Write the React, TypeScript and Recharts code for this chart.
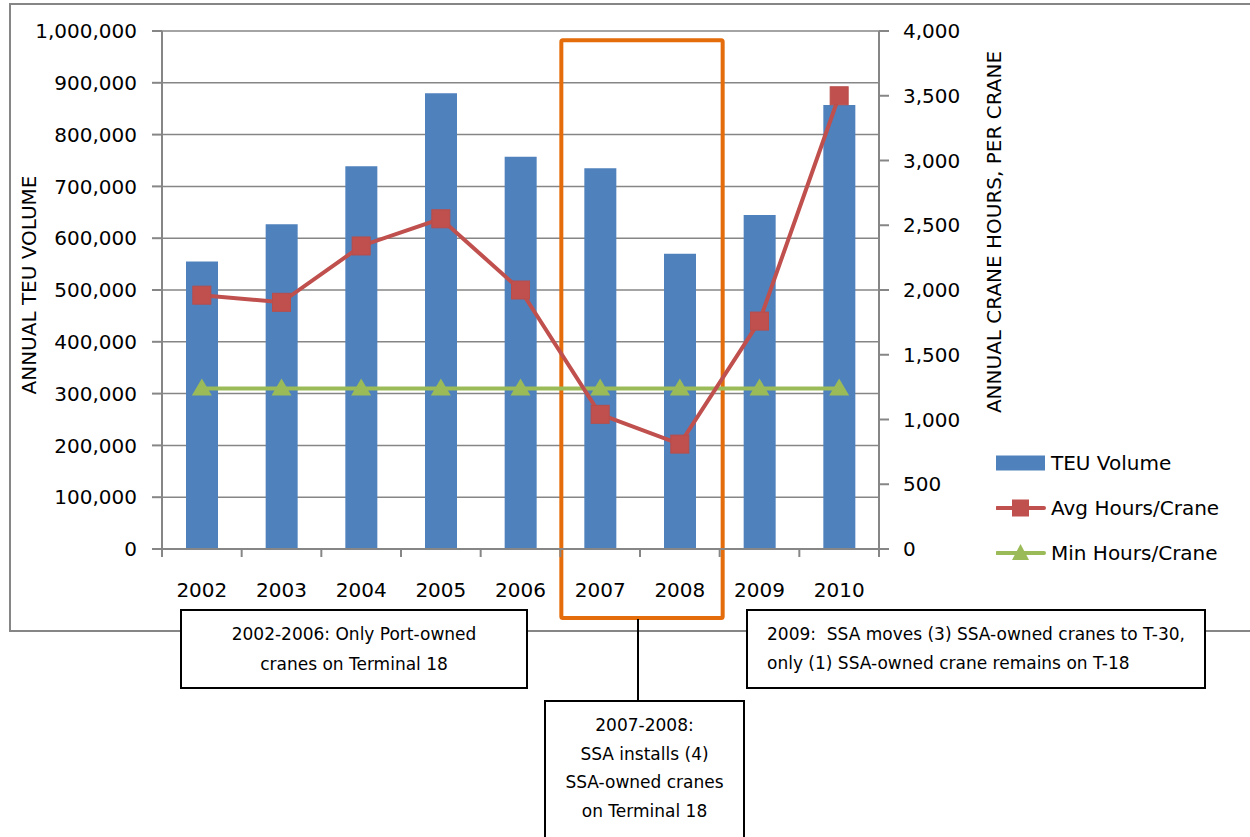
import React from 'react';
import {
  ComposedChart,
  Bar,
  Line,
  XAxis,
  YAxis,
  CartesianGrid,
  ReferenceArea,
  Legend,
} from 'recharts';

const years = ['2002', '2003', '2004', '2005', '2006', '2007', '2008', '2009', '2010'];
const teuVolume = [555000, 627000, 739000, 880000, 757000, 735000, 570000, 645000, 857000];
const avgHoursPerCrane = [1960, 1905, 2340, 2550, 2000, 1040, 810, 1760, 3500];
const minHoursPerCrane = [1240, 1240, 1240, 1240, 1240, 1240, 1240, 1240, 1240];
const leftTicks = [0, 100000, 200000, 300000, 400000, 500000, 600000, 700000, 800000, 900000, 1000000];
const rightTicks = [0, 500, 1000, 1500, 2000, 2500, 3000, 3500, 4000];
const highlightStart = '2007';
const highlightEnd = '2008';
const highlightLow = -133000;
const highlightHigh = 982000;

const seriesNames = { teu: 'TEU Volume', avg: 'Avg Hours/Crane', min: 'Min Hours/Crane' };
const legendOrder = ['teu', 'avg', 'min'];
const leftTitle = 'ANNUAL TEU VOLUME';
const rightTitle = 'ANNUAL CRANE HOURS, PER CRANE';

const noteEarly = ['2002-2006: Only Port-owned', 'cranes on Terminal 18'];
const noteMid = ['2007-2008:', 'SSA installs (4)', 'SSA-owned cranes', 'on Terminal 18'];
const noteLate = ['2009:  SSA moves (3) SSA-owned cranes to T-30,', 'only (1) SSA-owned crane remains on T-18'];

const data = years.map((year, i) => ({
  year,
  teu: teuVolume[i],
  avg: avgHoursPerCrane[i],
  min: minHoursPerCrane[i],
}));

const FONT = '"DejaVu Sans", sans-serif';
const GRAY = '#868686';
const BLUE = '#4F81BD';
const RED = '#C0504D';
const GREEN = '#9BBB59';
const ORANGE = '#E46C0A';

const fmt = (v: number) => v.toLocaleString('en-US');

const XTick = (props: any) => {
  const { x, y, payload, index } = props;
  const half = payload && payload.offset ? payload.offset : 39.8;
  const isLast = index === years.length - 1;
  return (
    <g>
      <line x1={x - half} x2={x - half} y1={y} y2={y + 8} stroke={GRAY} strokeWidth={2} />
      {isLast && <line x1={x + half} x2={x + half} y1={y} y2={y + 8} stroke={GRAY} strokeWidth={2} />}
      <text x={x} y={y + 41} textAnchor="middle" dominantBaseline="central" fontFamily={FONT} fontSize={20} fill="#000">
        {payload.value}
      </text>
    </g>
  );
};

const SquareDot = (props: any) => {
  const { cx, cy, index } = props;
  if (cx == null || cy == null) return <g key={index} />;
  return <rect key={index} x={cx - 9} y={cy - 9} width={18} height={18} fill={RED} stroke="#B84D4A" strokeWidth={1} />;
};

const TriangleDot = (props: any) => {
  const { cx, cy, index } = props;
  if (cx == null || cy == null) return <g key={index} />;
  return <polygon key={index} points={`${cx},${cy - 10} ${cx + 10},${cy + 7} ${cx - 10},${cy + 7}`} fill={GREEN} />;
};

const LegendIcon = ({ k }: { k: string }) => {
  if (k === 'teu') return <rect x={0} y={2.5} width={49} height={15} fill={BLUE} />;
  if (k === 'avg')
    return (
      <g>
        <line x1={1} x2={48} y1={10} y2={10} stroke={RED} strokeWidth={4} strokeLinecap="round" />
        <rect x={16} y={1.5} width={17} height={17} fill={RED} />
      </g>
    );
  return (
    <g>
      <line x1={1} x2={48} y1={10} y2={10} stroke={GREEN} strokeWidth={4} strokeLinecap="round" />
      <polygon points="24.5,1 33,17 16,17" fill={GREEN} />
    </g>
  );
};

const renderLegend = (props: any) => {
  const payload = [...(props.payload || [])].sort(
    (a: any, b: any) => legendOrder.indexOf(a.dataKey) - legendOrder.indexOf(b.dataKey)
  );
  return (
    <div style={{ fontFamily: FONT, fontSize: 20, color: '#000' }}>
      {payload.map((entry: any) => (
        <div key={entry.dataKey} style={{ display: 'flex', alignItems: 'center', height: 45 }}>
          <svg width={55} height={20} style={{ display: 'block' }}>
            <LegendIcon k={entry.dataKey} />
          </svg>
          <span style={{ whiteSpace: 'nowrap' }}>{entry.value}</span>
        </div>
      ))}
    </div>
  );
};

const LeftTitle = (props: any) => {
  const vb = props.viewBox || {};
  const cx = vb.x - 53;
  const cy = vb.y + vb.height / 2 - 5;
  return (
    <text x={cx} y={cy} transform={`rotate(-90 ${cx} ${cy})`} textAnchor="middle" dominantBaseline="central" fontFamily={FONT} fontSize={20} fill="#000">
      {leftTitle}
    </text>
  );
};

const RightTitle = (props: any) => {
  const vb = props.viewBox || {};
  const cx = vb.x + 115;
  const cy = vb.y + 201;
  return (
    <text x={cx} y={cy} transform={`rotate(-90 ${cx} ${cy})`} textAnchor="middle" dominantBaseline="central" fontFamily={FONT} fontSize={20} fill="#000">
      {rightTitle}
    </text>
  );
};

const OrangeBox = (props: any) => {
  const { x, y, width, height } = props;
  if ([x, y, width, height].some((v) => v == null || isNaN(v))) return null;
  return <rect x={x + 1} y={y} width={width + 2} height={height} fill="none" stroke={ORANGE} strokeWidth={4} rx={1.5} />;
};

const boxBase: React.CSSProperties = {
  position: 'absolute',
  boxSizing: 'border-box',
  border: '2px solid #000',
  background: '#fff',
  fontFamily: FONT,
  fontSize: 17,
  color: '#000',
  whiteSpace: 'pre',
};

export default function App() {
  return (
    <div style={{ position: 'absolute', left: 0, top: 0, width: 1250, height: 837, overflow: 'hidden', background: '#fff' }}>
      <div style={{ position: 'absolute', left: 9, top: 3, width: 1300, height: 629, boxSizing: 'border-box', border: `2px solid ${GRAY}` }} />
      <div style={{ position: 'absolute', left: 0, top: 0 }}>
        <ComposedChart width={1250} height={837} data={data} margin={{ top: 31, left: 82, right: 291, bottom: 248 }}>
          <CartesianGrid yAxisId="left" vertical={false} stroke={GRAY} strokeWidth={1.5} />
          <XAxis
            dataKey="year"
            height={40}
            tickLine={false}
            tickSize={0}
            tickMargin={0}
            tick={<XTick />}
            axisLine={{ stroke: GRAY, strokeWidth: 2 }}
            interval={0}
          />
          <YAxis
            yAxisId="left"
            orientation="left"
            width={80}
            domain={[0, 1000000]}
            ticks={leftTicks}
            tickFormatter={fmt}
            tickSize={10}
            tickMargin={15}
            axisLine={{ stroke: GRAY, strokeWidth: 2 }}
            tickLine={{ stroke: GRAY, strokeWidth: 2 }}
            tick={{ fontFamily: FONT, fontSize: 20, fill: '#000' }}
            interval={0}
            label={<LeftTitle />}
          />
          <YAxis
            yAxisId="right"
            orientation="right"
            width={80}
            domain={[0, 4000]}
            ticks={rightTicks}
            tickFormatter={fmt}
            tickSize={10}
            tickMargin={14}
            axisLine={{ stroke: GRAY, strokeWidth: 2 }}
            tickLine={{ stroke: GRAY, strokeWidth: 2 }}
            tick={{ fontFamily: FONT, fontSize: 20, fill: '#000', textAnchor: 'start' }}
            interval={0}
            label={<RightTitle />}
          />
          <Bar yAxisId="left" dataKey="teu" name={seriesNames.teu} fill={BLUE} barSize={32} isAnimationActive={false} legendType="rect" />
          <Line
            yAxisId="right"
            dataKey="min"
            name={seriesNames.min}
            stroke={GREEN}
            strokeWidth={4}
            dot={<TriangleDot />}
            activeDot={false}
            isAnimationActive={false}
            type="linear"
          />
          <Line
            yAxisId="right"
            dataKey="avg"
            name={seriesNames.avg}
            stroke={RED}
            strokeWidth={4}
            dot={<SquareDot />}
            activeDot={false}
            isAnimationActive={false}
            type="linear"
          />
          <ReferenceArea
            yAxisId="left"
            x1={highlightStart}
            x2={highlightEnd}
            y1={highlightLow}
            y2={highlightHigh}
            ifOverflow="visible"
            shape={<OrangeBox />}
          />
          <Legend
            layout="horizontal"
            verticalAlign="middle"
            align="center"
            content={renderLegend}
            wrapperStyle={{ left: 996, top: 440, width: 254 }}
          />
        </ComposedChart>
      </div>
      <div style={{ position: 'absolute', left: 637, top: 619, width: 2, height: 82, background: '#000' }} />
      <div style={{ ...boxBase, left: 180, top: 609, width: 348, height: 80, textAlign: 'center', lineHeight: '30px', paddingTop: 8 }}>
        {noteEarly.join('\n')}
      </div>
      <div style={{ ...boxBase, left: 544, top: 700, width: 201, height: 160, textAlign: 'center', lineHeight: '28.5px', paddingTop: 9 }}>
        {noteMid.join('\n')}
      </div>
      <div style={{ ...boxBase, left: 746, top: 609, width: 460, height: 80, textAlign: 'left', lineHeight: '29px', paddingTop: 9, paddingLeft: 19 }}>
        {noteLate.join('\n')}
      </div>
    </div>
  );
}
